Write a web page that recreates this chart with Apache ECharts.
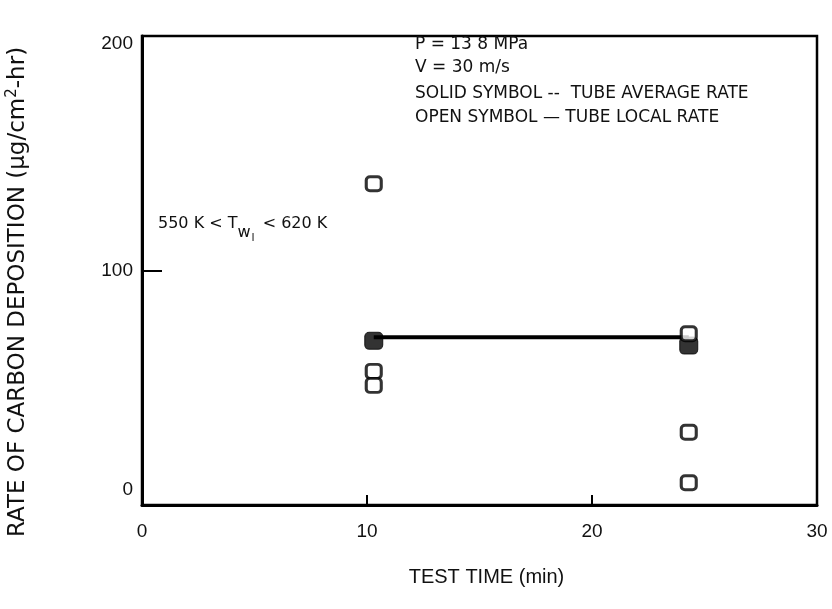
<!DOCTYPE html>
<html>
	<head>
		<meta charset="UTF-8">
		<title>Carbon deposition</title>
		<script type="text/javascript" src="https://cdn.jsdelivr.net/npm/echarts@6/dist/echarts.min.js"></script>
	</head>
	<script>
		// test time (min) and deposition rate readings
		var localX = [10.3, 10.3, 10.3, 24.3, 24.3, 24.3];
		var localY = [137, 57, 51, 73, 31, 9.5];
		var avgX = [10.3, 24.3];
		var avgY = [70, 68];
		var fitX = [10.3, 24.3];
		var fitY = [71.5, 71.5];
		var xTicks = [0, 10, 20, 30];
		var yTicks = [0, 100, 200];

		function pairs(xs, ys) {
			var out = [];
			for (var i = 0; i < xs.length; i++) {
				out.push([xs[i], ys[i]]);
			}
			return out;
		}

		window.onload = function () {
			var chart = echarts.init(document.getElementById("chart"));
			var font = "Liberation Sans";
			var wide = "DejaVu Sans";
			var option = {
				animation: false,
				backgroundColor: "#fff",
				grid: {
					left: 142, right: 15, top: 36, bottom: 104,
					show: true, borderColor: "#000", borderWidth: 2.5
				},
				xAxis: {
					type: "value", min: 0, max: 30, interval: 10,
					axisLine: {lineStyle: {color: "#000", width: 3}},
					axisTick: {inside: true, length: 10, lineStyle: {color: "#000", width: 2}},
					splitLine: {show: false},
					axisLabel: {
						color: "#111", fontFamily: font, fontSize: 19, margin: 17,
						formatter: function (v) { return xTicks.indexOf(v) >= 0 ? String(v) : ""; }
					},
					name: "TEST TIME (min)",
					nameLocation: "middle",
					nameGap: 62,
					nameTextStyle: {color: "#111", fontFamily: font, fontSize: 20, padding: [0, 0, 0, 14]}
				},
				yAxis: {
					type: "value", min: 0, max: 200, interval: 100,
					axisLine: {lineStyle: {color: "#000", width: 3}},
					axisTick: {inside: true, length: 20, lineStyle: {color: "#000", width: 2}},
					splitLine: {show: false},
					axisLabel: {
						color: "#111", fontFamily: font, fontSize: 19, margin: 9,
						formatter: function (v) {
							if (v === 0) return "{lo|0}";
							if (v === 200) return "{hi|200}";
							return yTicks.indexOf(v) >= 0 ? String(v) : "";
						},
						rich: {
							lo: {fontFamily: font, fontSize: 19, color: "#111", padding: [0, 0, 30, 0]},
							hi: {fontFamily: font, fontSize: 19, color: "#111", padding: [16, 0, 0, 0]}
						}
					}
				},
				series: [
					{
						type: "line",
						data: pairs(fitX, fitY),
						symbol: "none",
						lineStyle: {color: "#000", width: 4},
						z: 2
					},
					{
						type: "scatter",
						data: pairs(avgX, avgY),
						symbol: "roundRect",
						symbolSize: [18, 17],
						itemStyle: {color: "#000", borderColor: "#000", borderWidth: 1},
						z: 3
					},
					{
						type: "scatter",
						data: pairs(localX, localY),
						symbol: "roundRect",
						symbolSize: [15, 14],
						itemStyle: {color: "#fff", borderColor: "#000", borderWidth: 3},
						z: 4
					}
				],
				graphic: [
					{type: "text", left: 415, top: 36, style: {text: "P = 13 8 MPa", fontFamily: wide, fontSize: 17, fill: "#111"}},
					{type: "text", left: 415, top: 59, style: {text: "V = 30 m/s", fontFamily: wide, fontSize: 17, fill: "#111"}},
					{type: "text", left: 415, top: 85, style: {text: "SOLID SYMBOL --  TUBE AVERAGE RATE", fontFamily: wide, fontSize: 17, fill: "#111"}},
					{type: "text", left: 415, top: 109, style: {text: "OPEN SYMBOL — TUBE LOCAL RATE", fontFamily: wide, fontSize: 17, fill: "#111"}},
					{type: "text", left: 158, top: 216, style: {
						text: "550 K < T{sub|w}{sub2|l} < 620 K",
						fontFamily: wide, fontSize: 16, fill: "#111",
						rich: {
							sub: {fontFamily: wide, fontSize: 16, fill: "#111", padding: [18, 0, 0, 0]},
							sub2: {fontFamily: wide, fontSize: 11, fill: "#111", padding: [28, 3, 0, 1]}
						}
					}},
					{type: "text", x: 18, y: 292, rotation: Math.PI / 2, style: {
						text: "RATE OF CARBON DEPOSITION (μg/cm{sup|2}-hr)",
						fontFamily: wide, fontSize: 23, fill: "#111",
						align: "center", verticalAlign: "middle",
						rich: {sup: {fontFamily: wide, fontSize: 15, fill: "#111", padding: [0, 0, 12, 0]}}
					}}
				]
			};
			chart.setOption(option);
		};
	</script>
	<body style="margin: 0;">
		<div id="chart" style="width: 832px; height: 609px;"></div>
	</body>
</html>
